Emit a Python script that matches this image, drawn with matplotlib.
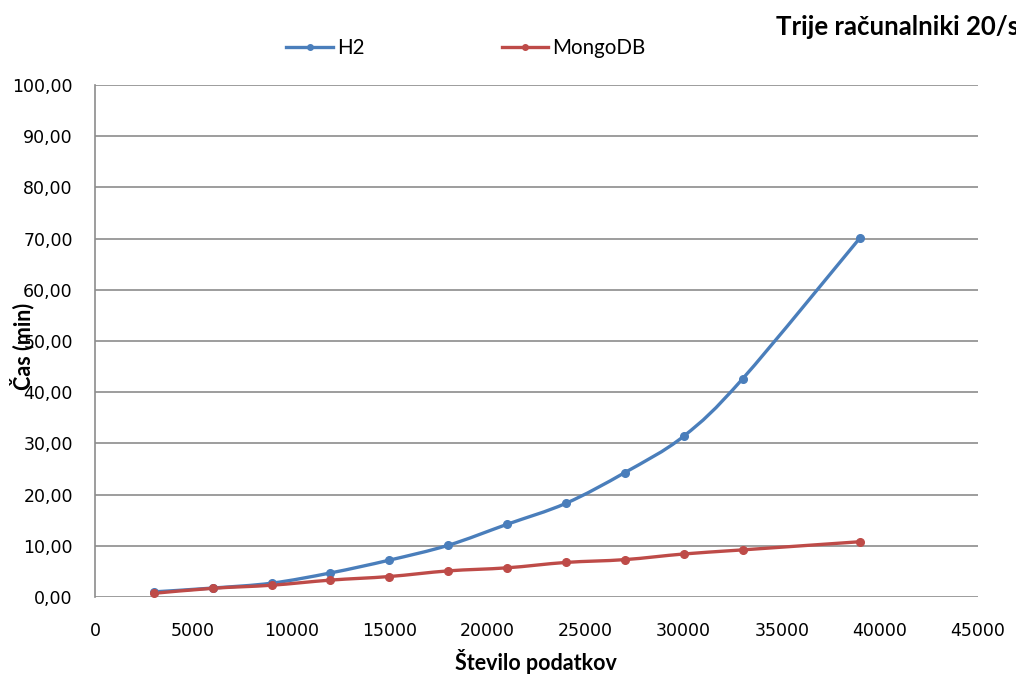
import numpy as np
import matplotlib
matplotlib.use("Agg")
import matplotlib.pyplot as plt
from matplotlib.path import Path
from matplotlib.patches import PathPatch
from matplotlib.lines import Line2D
from matplotlib.ticker import FuncFormatter, MultipleLocator

x_values = [3000, 6000, 9000, 12000, 15000, 18000, 21000, 24000, 27000, 30000, 33000, 39000]
h2 = [1.0, 1.75, 2.7, 4.7, 7.2, 10.1, 14.2, 18.3, 24.3, 31.4, 42.6, 70.2]
mongodb = [0.72, 1.7, 2.3, 3.3, 4.0, 5.1, 5.7, 6.75, 7.3, 8.4, 9.2, 10.8]
series_names = ["H2", "MongoDB"]
colors = ["#4A7EBB", "#BE4B48"]
title = "Trije računalniki 20/s"
xlabel = "Število podatkov"
ylabel = "Čas (min)"

fig = plt.figure(figsize=(10.16, 6.74), dpi=100)
ax = fig.add_axes([95/1016, 1-597/674, (978-95)/1016, (597-85)/674])


def smooth_path(xs, ys, t=1/6):
    xs = np.asarray(xs, float); ys = np.asarray(ys, float)
    pts = np.column_stack([xs, ys])
    n = len(pts)
    verts = [pts[0]]
    codes = [Path.MOVETO]
    for i in range(n - 1):
        p0 = pts[i - 1] if i > 0 else pts[i]
        p1 = pts[i]
        p2 = pts[i + 1]
        p3 = pts[i + 2] if i + 2 < n else pts[i + 1]
        c1 = p1 + (p2 - p0) * t
        c2 = p2 - (p3 - p1) * t
        verts += [c1, c2, p2]
        codes += [Path.CURVE4] * 3
    return Path(verts, codes)


for ys, c in zip([h2, mongodb], colors):
    ax.add_patch(PathPatch(smooth_path(x_values, ys), fill=False, edgecolor=c, lw=2.4,
                           zorder=3, capstyle='round', joinstyle='round'))
    ax.plot(x_values, ys, ls='none', marker='o', ms=5.5, color=c, zorder=4)

ax.set_xlim(0, 45000)
ax.set_ylim(0, 100)
ax.xaxis.set_major_locator(MultipleLocator(5000))
ax.yaxis.set_major_locator(MultipleLocator(10))
ax.yaxis.set_major_formatter(FuncFormatter(lambda v, p: f"{v:.2f}".replace('.', ',')))
ax.xaxis.set_major_formatter(FuncFormatter(lambda v, p: f"{int(v)}"))
ax.tick_params(axis='both', length=0, labelsize=12.5, colors='#000000')
ax.tick_params(axis='y', pad=16)
ax.tick_params(axis='x', pad=18)
ax.grid(axis='y', color='#8C8C8C', lw=1.2)
ax.set_axisbelow(True)
for s in ['top', 'right', 'bottom']:
    ax.spines[s].set_visible(False)
ax.spines['left'].set_color('#8C8C8C')
ax.spines['left'].set_linewidth(1.2)

fig.text(776/1016, 1-27/674, title, fontsize=18.5, fontweight='bold', family='Lato',
         ha='left', va='center')
fig.text(536/1016, 1-661/674, xlabel, fontsize=15.5, fontweight='bold', family='Lato',
         ha='center', va='center')
fig.text(22/1016, 1-346/674, ylabel, fontsize=15.5, fontweight='bold', family='Lato',
         ha='center', va='center', rotation=90)

handles = [Line2D([], [], color=c, lw=2.4, marker='o', ms=4) for c in colors]
fig.legend(handles, series_names, loc='center', bbox_to_anchor=(466/1016, 1-48/674),
           ncol=2, frameon=False, handlelength=2.25, handletextpad=0.2,
           columnspacing=6.7, prop={'family': 'Lato', 'size': 14.8})

fig.savefig("out.png", dpi=100)
